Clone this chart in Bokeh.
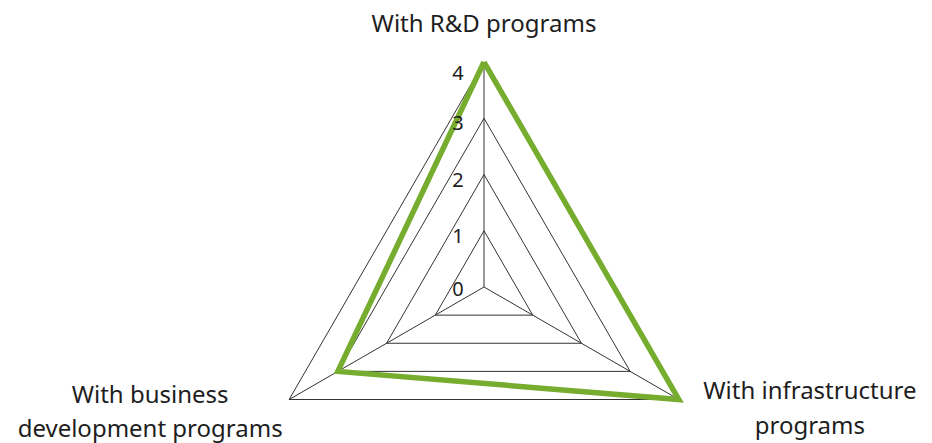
import numpy as np
from bokeh.plotting import figure
from bokeh.models import Range1d
from bokeh.core.properties import value
from bokeh.embed import file_html
from bokeh.resources import INLINE

# ---- data ----
categories = ["With R&D programs", "With infrastructure\nprograms", "With business\ndevelopment programs"]
angles_deg = [90, -30, 210]
values = [4, 4, 3]
ticks = [0, 1, 2, 3, 4]

# ---- layout ----
W, H = 932, 443
unit = 56.25                  # px per value unit
cx_px, cy_px = 483.5, 156.5   # center position (from left, from bottom)
p = figure(width=W, height=H, output_backend="svg", toolbar_location=None,
           x_axis_type=None, y_axis_type=None,
           x_range=Range1d(-cx_px / unit, (W - cx_px) / unit),
           y_range=Range1d(-cy_px / unit, (H - cy_px) / unit),
           min_border=0, min_border_left=0, min_border_right=0,
           min_border_top=0, min_border_bottom=0)
p.outline_line_color = None
p.grid.visible = False
p.background_fill_color = "white"

ang = np.radians(angles_deg)
rmax = max(ticks)

# grid triangles
for t in ticks[1:]:
    xs = list(t * np.cos(ang)) + [t * np.cos(ang[0])]
    ys = list(t * np.sin(ang)) + [t * np.sin(ang[0])]
    p.line(xs, ys, line_color="#333333", line_width=1)

# spokes
for a in ang:
    p.line([0, rmax * np.cos(a)], [0, rmax * np.sin(a)], line_color="#333333", line_width=1)

# data polygon
vx = list(np.array(values) * np.cos(ang))
vy = list(np.array(values) * np.sin(ang))
p.line(vx + [vx[0]], vy + [vy[0]], line_color="#76ad2f", line_width=5.5, line_join="miter")

# tick labels
tick_off = [2, 5, 5, 5, 11]
for t, o in zip(ticks, tick_off):
    p.text(x=[-0.36], y=[t], text=[str(t)],
           text_align="right", text_baseline="middle", y_offset=o,
           text_font=value("Noto Sans"), text_font_size="20px", text_color="#1e1e1e")

# category labels (offsets from outer vertices, in px)
off_px = [(0, 39.5), (131, -7.5), (-139, -11)]
lx = [rmax * np.cos(a) + dx / unit for a, (dx, dy) in zip(ang, off_px)]
ly = [rmax * np.sin(a) + dy / unit for a, (dx, dy) in zip(ang, off_px)]
p.text(x=lx, y=ly, text=categories, text_align="center", text_baseline="middle",
       text_font=value("Noto Sans"), text_font_size="24px", text_color="#1e1e1e",
       text_line_height=1.05)

open("out.html", "w").write(file_html(p, INLINE))
